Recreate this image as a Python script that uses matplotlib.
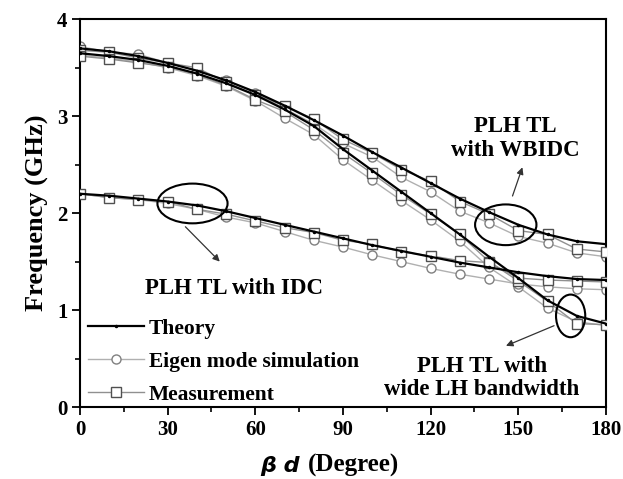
"""
Dispersion curves of the PLH transmission lines
"""
import matplotlib
matplotlib.use('Agg')
import matplotlib.pyplot as plt
from matplotlib.patches import Ellipse
from matplotlib.ticker import MultipleLocator

plt.rcParams['font.family'] = ['Liberation Serif', 'DejaVu Serif']
plt.rcParams['font.weight'] = 'bold'
plt.rcParams['axes.labelweight'] = 'bold'

beta_d = [0, 10, 20, 30, 40, 50, 60, 70, 80, 90, 100, 110, 120, 130, 140, 150, 160, 170, 180]

# PLH TL with WBIDC
wbidc_theory = [3.70, 3.67, 3.62, 3.55, 3.47, 3.37, 3.25, 3.11, 2.96, 2.80, 2.63, 2.47, 2.31, 2.15, 2.01, 1.88, 1.78, 1.71, 1.68]
wbidc_eigen = [3.72, 3.66, 3.64, 3.55, 3.47, 3.37, 3.24, 3.08, 2.92, 2.72, 2.58, 2.37, 2.22, 2.02, 1.90, 1.76, 1.69, 1.59, 1.55]
wbidc_meas = [3.68, 3.66, 3.60, 3.55, 3.50, 3.35, 3.22, 3.11, 2.97, 2.76, 2.62, 2.45, 2.33, 2.12, 1.99, 1.82, 1.78, 1.63, 1.60]

# PLH TL with wide LH bandwidth
wide_theory = [3.65, 3.62, 3.58, 3.52, 3.44, 3.34, 3.22, 3.07, 2.90, 2.66, 2.44, 2.22, 2.00, 1.78, 1.55, 1.33, 1.10, 0.94, 0.86]
wide_eigen = [3.63, 3.60, 3.56, 3.50, 3.42, 3.31, 3.16, 2.98, 2.81, 2.55, 2.34, 2.13, 1.93, 1.71, 1.44, 1.24, 1.02, 0.88, 0.84]
wide_meas = [3.62, 3.59, 3.55, 3.51, 3.43, 3.32, 3.17, 3.05, 2.86, 2.62, 2.41, 2.19, 1.99, 1.78, 1.50, 1.30, 1.09, 0.86, 0.85]

# PLH TL with IDC
idc_theory = [2.20, 2.18, 2.15, 2.12, 2.08, 2.02, 1.95, 1.88, 1.81, 1.74, 1.67, 1.61, 1.55, 1.49, 1.44, 1.39, 1.35, 1.32, 1.31]
idc_eigen = [2.20, 2.16, 2.14, 2.10, 2.04, 1.96, 1.90, 1.81, 1.72, 1.65, 1.57, 1.50, 1.43, 1.37, 1.32, 1.27, 1.24, 1.22, 1.21]
idc_meas = [2.20, 2.16, 2.14, 2.12, 2.04, 1.99, 1.92, 1.85, 1.80, 1.72, 1.68, 1.60, 1.56, 1.51, 1.49, 1.33, 1.31, 1.30, 1.29]

fig = plt.figure(figsize=(6.23, 4.79), dpi=100)
ax = fig.add_axes([0.1284, 0.1503, 0.8443, 0.8094])

eig_style = dict(color='#b0b0b0', lw=1.0, marker='o', ms=6.5, mfc='white', mec='#808080', mew=1.0)
meas_style = dict(color='#909090', lw=1.0, marker='s', ms=6.5, mfc='white', mec='#505050', mew=1.0)
th_style = dict(color='black', lw=1.6, marker='.', ms=3)

for eig, meas, th in [(wbidc_eigen, wbidc_meas, wbidc_theory),
                      (wide_eigen, wide_meas, wide_theory),
                      (idc_eigen, idc_meas, idc_theory)]:
    ax.plot(beta_d, eig, zorder=2, **eig_style)
    ax.plot(beta_d, meas, zorder=3, **meas_style)
    ax.plot(beta_d, th, zorder=4, **th_style)

# legend proxies
h_th, = ax.plot([], [], label='Theory', **th_style)
h_eig, = ax.plot([], [], label='Eigen mode simulation', **eig_style)
h_meas, = ax.plot([], [], label='Measurement', **meas_style)
ax.legend(handles=[h_th, h_eig, h_meas], loc='lower left', bbox_to_anchor=(0.012, 0.0),
          frameon=False, fontsize=15.5, handlelength=2.6, handletextpad=0.2,
          labelspacing=0.6, borderpad=0.1, borderaxespad=0.0)

# ellipses and arrows
ax.add_patch(Ellipse((38.5, 2.10), 24, 0.41, fill=False, ec='black', lw=1.5, zorder=5))
ax.add_patch(Ellipse((145.7, 1.88), 21, 0.42, fill=False, ec='black', lw=1.5, zorder=5))
ax.add_patch(Ellipse((167.9, 0.94), 10, 0.44, fill=False, ec='black', lw=1.5, zorder=5))

arrow = dict(arrowstyle='-|>', color='#333333', lw=0.9, mutation_scale=10)
ax.annotate('', xy=(48.5, 1.48), xytext=(35.4, 1.88), arrowprops=arrow)
ax.annotate('', xy=(151.7, 2.50), xytext=(147.7, 2.15), arrowprops=arrow)
ax.annotate('', xy=(144.9, 0.62), xytext=(163.1, 0.85), arrowprops=arrow)

ax.text(52.7, 1.22, 'PLH TL with IDC', fontsize=16.5, ha='center', va='center')
ax.text(149.0, 2.77, 'PLH TL\nwith WBIDC', fontsize=16.5, ha='center', va='center',
        linespacing=1.15)
ax.text(137.6, 0.30, 'PLH TL with\nwide LH bandwidth', fontsize=16.5, ha='center', va='center',
        linespacing=1.15)

ax.set_xlim(0, 180)
ax.set_ylim(0, 4)
ax.xaxis.set_major_locator(MultipleLocator(30))
ax.xaxis.set_minor_locator(MultipleLocator(15))
ax.yaxis.set_major_locator(MultipleLocator(1))
ax.yaxis.set_minor_locator(MultipleLocator(0.5))
ax.tick_params(which='major', direction='out', length=6, width=1.3, labelsize=15, pad=3)
ax.tick_params(which='minor', direction='out', length=3.5, width=1.2)
for lab in ax.get_xticklabels() + ax.get_yticklabels():
    lab.set_fontweight('bold')
for sp in ax.spines.values():
    sp.set_linewidth(1.5)

ax.set_ylabel('Frequency (GHz)', fontsize=19, fontweight='bold', labelpad=6)
ax.text(0.433, -0.152, 'β d ', transform=ax.transAxes, ha='right', va='center',
        fontsize=16, family='DejaVu Sans', style='italic', weight='bold')
ax.text(0.433, -0.152, '(Degree)', transform=ax.transAxes, ha='left', va='center',
        fontsize=18, weight='bold')

fig.savefig('out.png', dpi=100)
